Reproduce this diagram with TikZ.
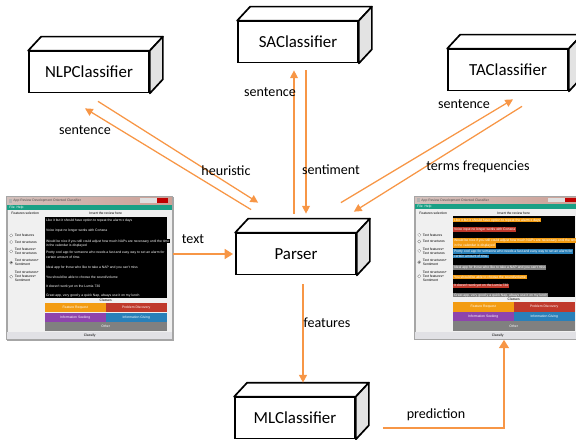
\documentclass[tikz,border=0pt]{standalone}
\usepackage{fontspec}
\setmainfont{Carlito}
\newfontfamily\uifont{Liberation Sans}
\usetikzlibrary{%
  arrows.meta,%
  positioning,%
  calc%
}
\definecolor{arroworange}{RGB}{247,150,70}
\definecolor{menuteal}{RGB}{26,160,133}
\definecolor{reqorange}{RGB}{243,156,18}
\definecolor{probred}{RGB}{192,57,43}
\definecolor{seekpurple}{RGB}{142,68,173}
\definecolor{giveblue}{RGB}{41,128,185}
\definecolor{othergray}{RGB}{128,128,128}
\definecolor{titlepink}{RGB}{205,160,150}

\begin{document}
\begin{tikzpicture}[
  x=0.025cm, y=-0.025cm,
  font=\fontsize{10}{12}\selectfont,
  box/.style={draw, line width=1.2pt, fill=white, minimum width=3cm,
    minimum height=1.025cm, inner sep=0pt, font=\fontsize{12}{14}\selectfont},
  topface/.style={draw, line width=1.2pt, fill=white, line join=round},
  sideface/.style={draw, line width=1.2pt, fill=gray!22, line join=round},
  flow/.style={draw=arroworange, line width=0.9pt, -{Triangle[length=5.5pt,width=5.5pt]}},
  bigflow/.style={draw=arroworange, line width=1.8pt, -{Triangle[length=6pt,width=7pt]}},
  window/.style={draw=gray!70, fill=gray!12, minimum width=4.15cm,
    minimum height=3.575cm, inner sep=0pt},
  ui/.style={font=\uifont\fontsize{2.4}{2.9}\selectfont, inner sep=0.3pt},
  review/.style={ui, anchor=west, text=white, inner sep=0.5pt},
]
\useasboundingbox (0,0) rectangle (576,439);

% classifiers
\node[box] (nlp) at (89,72) {NLPClassifier};
\node[box] (sa) at (298,42) {SAClassifier};
\node[box] (ta) at (508,70) {TAClassifier};
\node[box] (parser) at (296,254) {Parser};
\node[box] (ml) at (295,418) {MLClassifier};

\foreach \n in {nlp,sa,ta,parser,ml} {
  \draw[topface] (\n.north west) -- ++(13,-14) -- ($(\n.north east)+(13,-14)$)
    -- (\n.north east) -- cycle;
  \draw[sideface] (\n.north east) -- ++(13,-14) -- ($(\n.south east)+(13,-14)$)
    -- (\n.south east) -- cycle;
}

% screenshots of the tool
\node[window] (inwin) at (90,268.5) {};
\node[window] (outwin) at (498,268) {};

\foreach \win/\p in {inwin/0,outwin/100} {
  \begin{scope}[shift={(\win.north west)}]
    \shade[left color=titlepink!70!gray!60, right color=titlepink] (0,0) rectangle (166,8);
    \fill[gray!60] (2.5,2) rectangle (5,6);
    \node[ui, anchor=west, text=black!70] (\win-title) at (6,4)
      {App Review Development Oriented Classifier};
    \fill[gray!25] (133,1.5) rectangle (150,6);
    \fill[red!75!black] (150,1.5) rectangle (161,6);
    \fill[menuteal] (0,8) rectangle (166,13);
    \node[ui, anchor=west, text=white] (\win-menu) at (2,10.5) {File\enspace Help};
    \node[ui, anchor=west] (\win-feat) at (4,17) {Features selection};
    \node[ui] (\win-insert) at (99,17) {Insert the review here};
    \fill[black] (38,20) rectangle (160,101);
    \foreach \ly/\c/\txt [count=\i] in {
      24/reqorange/{Like it but it should have option to repeat the alarm x days},
      33.5/probred/{Voice input no longer works with Cortana},
      44.5/reqorange/{Would be nice if you still could adjust how much NAPs are necessary until the time},
      49.3/reqorange/{in the calendar is displayed},
      55.5/giveblue/{Pretty cool app for someone who needs a fast and easy way to set an alarm for},
      60.3/giveblue/{certain amount of time.},
      71.3/othergray/{Ideal app for those who like to take a NAP and you can't miss},
      80.7/reqorange/{You should be able to choose the sound/volume},
      89.7/probred/{It doesn't work yet on the Lumia 730},
      99/othergray/{Great app, very good y a quick Nap, always use it on my lunch}} {
      \node[review, fill=\c!\p!black] (\win-rv\i) at (38.4,\ly) {\txt};
    }
    \foreach \ry/\rt [count=\j] in {
      38.7/{Text features},
      45.3/{Text structures},
      54.7/{Text features+\\Text structures},
      66/{Text structures+\\Sentiment},
      80/{Text structures+\\Text features+\\Sentiment}} {
      \draw[gray, line width=0.2pt, fill=white] (4.5,\ry) circle (1.6);
      \node[ui, anchor=west, align=left] (\win-opt\j) at (7.5,\ry) {\rt};
    }
    \fill[black!80] (4.5,66) circle (0.8);
    \node[ui] (\win-classes) at (99,103.5) {Classes};
    \foreach \bx/\by/\bw/\bc/\bt [count=\k] in {
      38/106/61/reqorange/{Feature Request},
      99/106/61/probred/{Problem Discovery},
      38/116/61/seekpurple/{Information Seeking},
      99/116/61/giveblue/{Information Giving},
      38/125/122/othergray/{Other}} {
      \fill[\bc] (\bx,\by) rectangle ++(\bw,9.5);
      \node[ui, text=white] (\win-cls\k) at (\bx+\bw/2,\by+4.75) {\bt};
    }
    \fill[blue!6!gray!22] (0,135.5) rectangle (166,143);
    \node[ui] (\win-classify) at (83,139.2) {Classify};
    \draw[gray!70, line width=0.4pt] (0,0) rectangle (166,143);
  \end{scope}
}

% NLPClassifier
\draw[flow] ($(nlp.south)+(9,8)$) -- ($(parser.north west)+(23,-30)$);
\draw[flow] ($(parser.north west)+(16,-23)$) -- ($(nlp.south)+(-4,15)$);
\node (lblnlpsent) at (85,130) {sentence};
\node (lblheur) at (226,171) {heuristic};

% SAClassifier
\draw[flow] ($(parser.north)+(-2,-19)$) -- ($(sa.south)+(-4,7)$);
\draw[flow] ($(sa.south)+(8,7)$) -- ($(parser.north)+(10,-19)$);
\node (lblsasent) at (270,92) {sentence};
\node (lblsenti) at (331,170) {sentiment};

% TAClassifier
\draw[flow] ($(parser.north east)+(-16,-30)$) -- ($(ta.south)+(5,8)$);
\draw[flow] ($(ta.south)+(14,15)$) -- ($(parser.north east)+(-3,-21)$);
\node (lbltasent) at (464,104) {sentence};
\node (lblterms) at (478,167) {terms frequencies};

% input and output
\draw[bigflow, shorten >=1.5pt] (inwin.east |- parser.west) -- (parser.west);
\node (lbltext) at (193,239) {text};
\draw[flow, line width=1.2pt] ($(parser.south)+(7,9)$) -- ($(ml.north)+(8,-14)$);
\node (lblfeat) at (327,323) {features};
\draw[bigflow] ($(ml.east)+(27,10)$) -| ($(outwin.south)+(6,0)$);
\node (lblpred) at (436,415) {prediction};

\end{tikzpicture}
\end{document}
